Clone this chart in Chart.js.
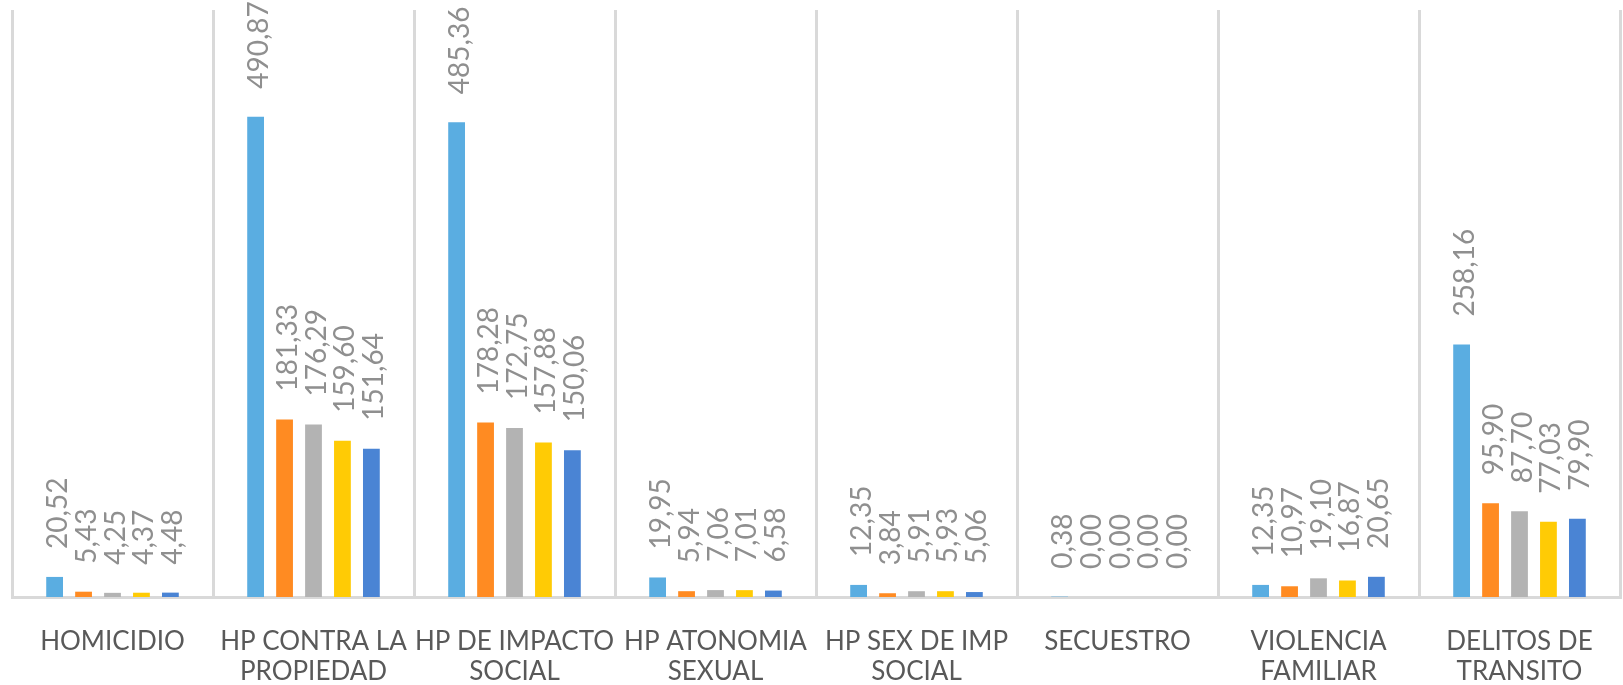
<!DOCTYPE html>
<html>
<head>
<meta charset="utf-8">
<script src="https://cdn.jsdelivr.net/npm/chart.js@4"></script>
<style>
    body { margin: 0; background: #ffffff; }
    #wrap { width: 1623px; height: 685px; position: relative; }
</style>
</head>
<body>
<div id="wrap"><canvas id="chart"></canvas></div>
<script>
const categories = [
    ["HOMICIDIO"],
    ["HP CONTRA LA", "PROPIEDAD"],
    ["HP DE IMPACTO", "SOCIAL"],
    ["HP ATONOMIA", "SEXUAL"],
    ["HP SEX DE IMP", "SOCIAL"],
    ["SECUESTRO"],
    ["VIOLENCIA", "FAMILIAR"],
    ["DELITOS DE", "TRANSITO"]
];

const serie1 = [20.52, 490.87, 485.36, 19.95, 12.35, 0.38, 12.35, 258.16];
const serie2 = [5.43, 181.33, 178.28, 5.94, 3.84, 0.00, 10.97, 95.90];
const serie3 = [4.25, 176.29, 172.75, 7.06, 5.91, 0.00, 19.10, 87.70];
const serie4 = [4.37, 159.60, 157.88, 7.01, 5.93, 0.00, 16.87, 77.03];
const serie5 = [4.48, 151.64, 150.06, 6.58, 5.06, 0.00, 20.65, 79.90];

const seriesNames = ["Serie 1", "Serie 2", "Serie 3", "Serie 4", "Serie 5"];
const seriesColors = ["#5aade1", "#ff8b22", "#b3b3b3", "#ffcb05", "#4a84d4"];

const FONT = "Lato, 'DejaVu Sans', sans-serif";

// etiquetas de valor giradas sobre cada barra
const valueLabels = {
    id: "valueLabels",
    afterDatasetsDraw(chart) {
        const ctx = chart.ctx;
        ctx.save();
        ctx.font = "28px " + FONT;
        ctx.fillStyle = "#8f8f8f";
        ctx.textAlign = "left";
        ctx.textBaseline = "middle";
        chart.data.datasets.forEach((ds, i) => {
            const meta = chart.getDatasetMeta(i);
            meta.data.forEach((bar, j) => {
                const txt = ds.data[j].toFixed(2).replace(".", ",");
                ctx.save();
                ctx.translate(bar.x + 3, bar.y - 28);
                ctx.rotate(-Math.PI / 2);
                ctx.fillText(txt, 0, 0);
                ctx.restore();
            });
        });
        ctx.restore();
    }
};

const allSeries = [serie1, serie2, serie3, serie4, serie5];

new Chart(document.getElementById("chart"), {
    type: "bar",
    data: {
        labels: categories,
        datasets: allSeries.map((values, i) => ({
            label: seriesNames[i],
            data: values,
            backgroundColor: seriesColors[i],
            categoryPercentage: 0.72,
            barPercentage: 0.58
        }))
    },
    options: {
        responsive: true,
        maintainAspectRatio: false,
        animation: false,
        layout: { padding: { top: 10, left: 12, right: 3, bottom: 0 } },
        plugins: {
            legend: { display: false },
            tooltip: { enabled: false }
        },
        scales: {
            x: {
                afterFit(scale) { scale.height = 88; },
                grid: {
                    offset: true,
                    color: "#d9d9d9",
                    lineWidth: 3,
                    drawTicks: false
                },
                border: { display: true, color: "#d9d9d9", width: 3 },
                ticks: {
                    color: "#595959",
                    font: { family: FONT, size: 26, lineHeight: 1.15 },
                    padding: 30,
                    maxRotation: 0,
                    autoSkip: false
                }
            },
            y: {
                display: false,
                min: 0,
                max: 600
            }
        }
    },
    plugins: [valueLabels]
});
</script>
</body>
</html>
